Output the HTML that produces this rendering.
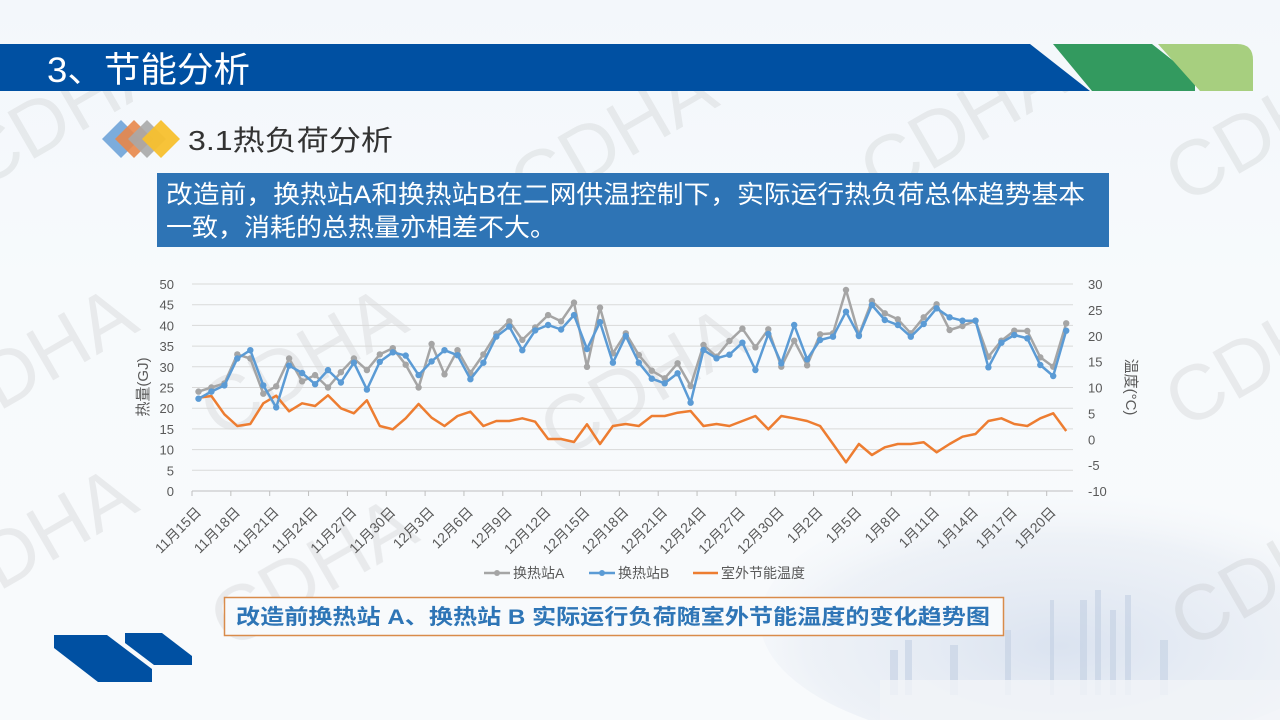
<!DOCTYPE html>
<html><head><meta charset="utf-8">
<style>
html,body{margin:0;padding:0}
body{width:1280px;height:720px;overflow:hidden;position:relative;font-family:"Liberation Sans","Noto Sans CJK SC",sans-serif;
background:linear-gradient(180deg,#f3f7fb 0%,#f7fafc 40%,#f8fafc 100%);}
svg{position:absolute;left:0;top:0;display:block}
</style></head><body>
<svg width="1280" height="720" xmlns="http://www.w3.org/2000/svg">
<defs>
<radialGradient id="haze" cx="0.5" cy="0.6" r="0.6">
<stop offset="0" stop-color="#d3dded" stop-opacity="0.8"/>
<stop offset="0.7" stop-color="#e3e9f2" stop-opacity="0.5"/>
<stop offset="1" stop-color="#f3f6fa" stop-opacity="0"/>
</radialGradient>
</defs>
<ellipse cx="1060" cy="620" rx="300" ry="130" fill="url(#haze)"/>
<g fill="#c3d0e3" opacity="0.6">
<rect x="890" y="650" width="8" height="45"/><rect x="905" y="640" width="7" height="55"/>
<rect x="950" y="645" width="8" height="50"/><rect x="1005" y="630" width="6" height="65"/>
<rect x="1050" y="600" width="4" height="95"/><rect x="1080" y="600" width="7" height="95"/>
<rect x="1095" y="590" width="6" height="105"/><rect x="1110" y="610" width="6" height="85"/>
<rect x="1125" y="595" width="6" height="100"/><rect x="1160" y="640" width="8" height="55"/>
</g>
<rect x="880" y="680" width="400" height="40" fill="#f1f4f8" opacity="0.8"/>
<!-- watermarks -->
<g font-family="Liberation Sans,sans-serif" font-size="78" fill="#9a9a9a" opacity="0.16">
<text transform="translate(-20,190) rotate(-30)">CDHA</text>
<text transform="translate(530,215) rotate(-30)">CDHA</text>
<text transform="translate(880,200) rotate(-30)">CDHA</text>
<text transform="translate(1185,205) rotate(-30)">CDHA</text>
<text transform="translate(-50,440) rotate(-30)">CDHA</text>
<text transform="translate(220,440) rotate(-30)">CDHA</text>
<text transform="translate(560,460) rotate(-30)">CDHA</text>
<text transform="translate(1185,430) rotate(-30)">CDHA</text>
<text transform="translate(-50,620) rotate(-30)">CDHA</text>
<text transform="translate(230,650) rotate(-30)">CDHA</text>
<text transform="translate(1190,650) rotate(-30)">CDHA</text>
</g>
<!-- header -->
<polygon points="0,44 1030,44 1090,91 0,91" fill="#0050A2"/>
<polygon points="1053,44 1152,44 1195,78 1195,91 1092,91" fill="#339A5F"/>
<path d="M1158,44 L1237,44 Q1253,44 1253,60 L1253,91 L1200,91 Z" fill="#A7CF7F"/>
<text x="47" y="82" font-size="35" fill="#fff" textLength="203" lengthAdjust="spacingAndGlyphs" font-family="Liberation Sans,Noto Sans CJK SC,sans-serif">3、节能分析</text>
<!-- diamonds -->
<polygon points="121,120 140,139 121,158 102,139" fill="#6FA3D8" opacity="0.9"/>
<polygon points="134,120 153,139 134,158 115,139" fill="#E8874A" opacity="0.9"/>
<polygon points="147,120 166,139 147,158 128,139" fill="#A8A8A8" opacity="0.9"/>
<polygon points="161,120 180,139 161,158 142,139" fill="#F7C02E" opacity="0.95"/>
<text x="188" y="150" font-size="28" fill="#333" textLength="205" lengthAdjust="spacingAndGlyphs" font-family="Liberation Sans,Noto Sans CJK SC,sans-serif">3.1热负荷分析</text>
<!-- blue box -->
<rect x="157" y="173" width="952" height="74" fill="#2E74B5"/>
<text x="166" y="203" font-size="25" fill="#fff" textLength="919" lengthAdjust="spacingAndGlyphs" font-family="Liberation Sans,Noto Sans CJK SC,sans-serif">改造前，换热站A和换热站B在二网供温控制下，实际运行热负荷总体趋势基本</text>
<text x="166" y="236" font-size="25" fill="#fff" textLength="390" lengthAdjust="spacingAndGlyphs" font-family="Liberation Sans,Noto Sans CJK SC,sans-serif">一致，消耗的总热量亦相差不大。</text>
<!-- chart -->
<g id="chart" font-family="Liberation Sans,Noto Sans CJK SC,sans-serif"></g>
<!-- caption -->
<rect x="224.5" y="597.5" width="779" height="38" fill="#f8fafc" stroke="#D98B4A" stroke-width="1.5"/>
<text x="236" y="624" font-size="21" font-weight="bold" fill="#2E75B6" textLength="754" lengthAdjust="spacingAndGlyphs" font-family="Liberation Sans,Noto Sans CJK SC,sans-serif">改造前换热站 A、换热站 B 实际运行负荷随室外节能温度的变化趋势图</text>
<polygon points="54,635 107,635 152,669 152,682 98,682 54,648" fill="#0050A2"/>
<polygon points="125,633 162,633 192,656 192,665 154,665 125,643" fill="#0050A2"/>
</svg>
<script>
var gA=[24,25,26,33,32,23.5,25.3,32,26.5,28,25,28.7,32,29.2,33,34.5,30.5,25,35.5,28.2,34,28.5,33,38,41,36.5,39.5,42.5,41,45.5,30,44.3];
var gB=[22.3,24,25.5,32,34,25.5,20.2,30.3,28.5,25.8,29.2,26.2,31,24.5,31.2,33.5,32.7,28,31.3,34,32.8,27,31,37.3,39.7,34,38.8,40.1,39,42.5,34.3,40.8];
var oz=[383,378,433,468,462,400,377,424,400,408,376,415,430,391,468,478,445,402,443,468,438,425,468,453,453,445,455,507,507,516,463,522];
var z2=[[250,278,468],[190,198,462],[255,278,468],[302,326,438],[325,340,438],[280,310,428],[348,398,423],[225,240,468],[260,265,462],[213,254,468],[176,218,453],[232,300,438],[178,192,478],[290,280,438],[212,165,445],[286,268,453],[193,210,468],[190,200,522],[60,125,577],[195,198,522],[93,105,555],[130,150,532],[148,165,522],[190,200,522],[142,162,517],[103,115,547],[180,142,522],[168,152,500],[152,152,492],[260,292,453],[212,218,445],[182,195,462],[183,205,468],[262,285,445],[290,318,430],[160,182,483]];
var ya=[],yb=[],yo=[];
for(var i=0;i<32;i++){ya.push(491-gA[i]*4.14);yb.push(491-gB[i]*4.14);yo.push(270+oz[i]/3);}
for(var j=0;j<z2.length;j++){ya.push(270+z2[j][0]/3);yb.push(270+z2[j][1]/3);yo.push(270+z2[j][2]/3);}
var X=function(i){return 198.5+12.95*i;};
var s='';
for(var k=0;k<=10;k++){var y=491-k*20.7;s+='<line x1="192" x2="1073" y1="'+y+'" y2="'+y+'" stroke="'+(k==0?'#bfbfbf':'#d9d9d9')+'" stroke-width="1"/>';
s+='<text x="174" y="'+(y+5)+'" text-anchor="end" font-size="13" fill="#595959">'+(k*5)+'</text>';
var t=-10+k*5; if(k<=8){var yy=491-k*25.875; s+='<text x="1088" y="'+(yy+5)+'" font-size="13" fill="#595959">'+t+'</text>';}}
var days=[];var m=11,d=15;var ml={11:30,12:31,1:31};
for(var i=0;i<68;i++){days.push(m+'月'+d+'日');d++;if(d>ml[m]){d=1;m=(m==12?1:m+1);}}
for(var i=0;i<68;i+=3){var tx=192+12.95*i;s+='<line x1="'+tx+'" x2="'+tx+'" y1="491" y2="496" stroke="#bfbfbf"/>';
s+='<text transform="translate('+(tx+10)+',513) rotate(-45)" text-anchor="end" font-size="14" fill="#595959">'+days[i]+'</text>';}
function pl(arr,c,w){var p=arr.map(function(v,i){return X(i).toFixed(1)+','+v.toFixed(1);}).join(' ');return '<polyline points="'+p+'" fill="none" stroke="'+c+'" stroke-width="'+w+'" stroke-linejoin="round"/>';}
function dots(arr,c){return arr.map(function(v,i){return '<circle cx="'+X(i).toFixed(1)+'" cy="'+v.toFixed(1)+'" r="3.2" fill="'+c+'"/>';}).join('');}
s+=pl(yo,'#ED7D31',2.5);
s+=pl(ya,'#A5A5A5',2.5)+dots(ya,'#A5A5A5');
s+=pl(yb,'#5B9BD5',2.5)+dots(yb,'#5B9BD5');
s+='<text transform="translate(148,387) rotate(-90)" text-anchor="middle" font-size="15" fill="#595959">热量(GJ)</text>';
s+='<text transform="translate(1126,387) rotate(90)" text-anchor="middle" font-size="15" fill="#595959">温度(°C)</text>';
s+='<line x1="484" x2="510" y1="573" y2="573" stroke="#A5A5A5" stroke-width="2.5"/><circle cx="497" cy="573" r="3" fill="#A5A5A5"/><text x="513" y="578" font-size="14" fill="#595959">换热站A</text>';
s+='<line x1="589" x2="615" y1="573" y2="573" stroke="#5B9BD5" stroke-width="2.5"/><circle cx="602" cy="573" r="3" fill="#5B9BD5"/><text x="618" y="578" font-size="14" fill="#595959">换热站B</text>';
s+='<line x1="693" x2="718" y1="573" y2="573" stroke="#ED7D31" stroke-width="2.5"/><text x="721" y="578" font-size="14" fill="#595959">室外节能温度</text>';
document.getElementById('chart').innerHTML=s;
</script>
</body></html>
